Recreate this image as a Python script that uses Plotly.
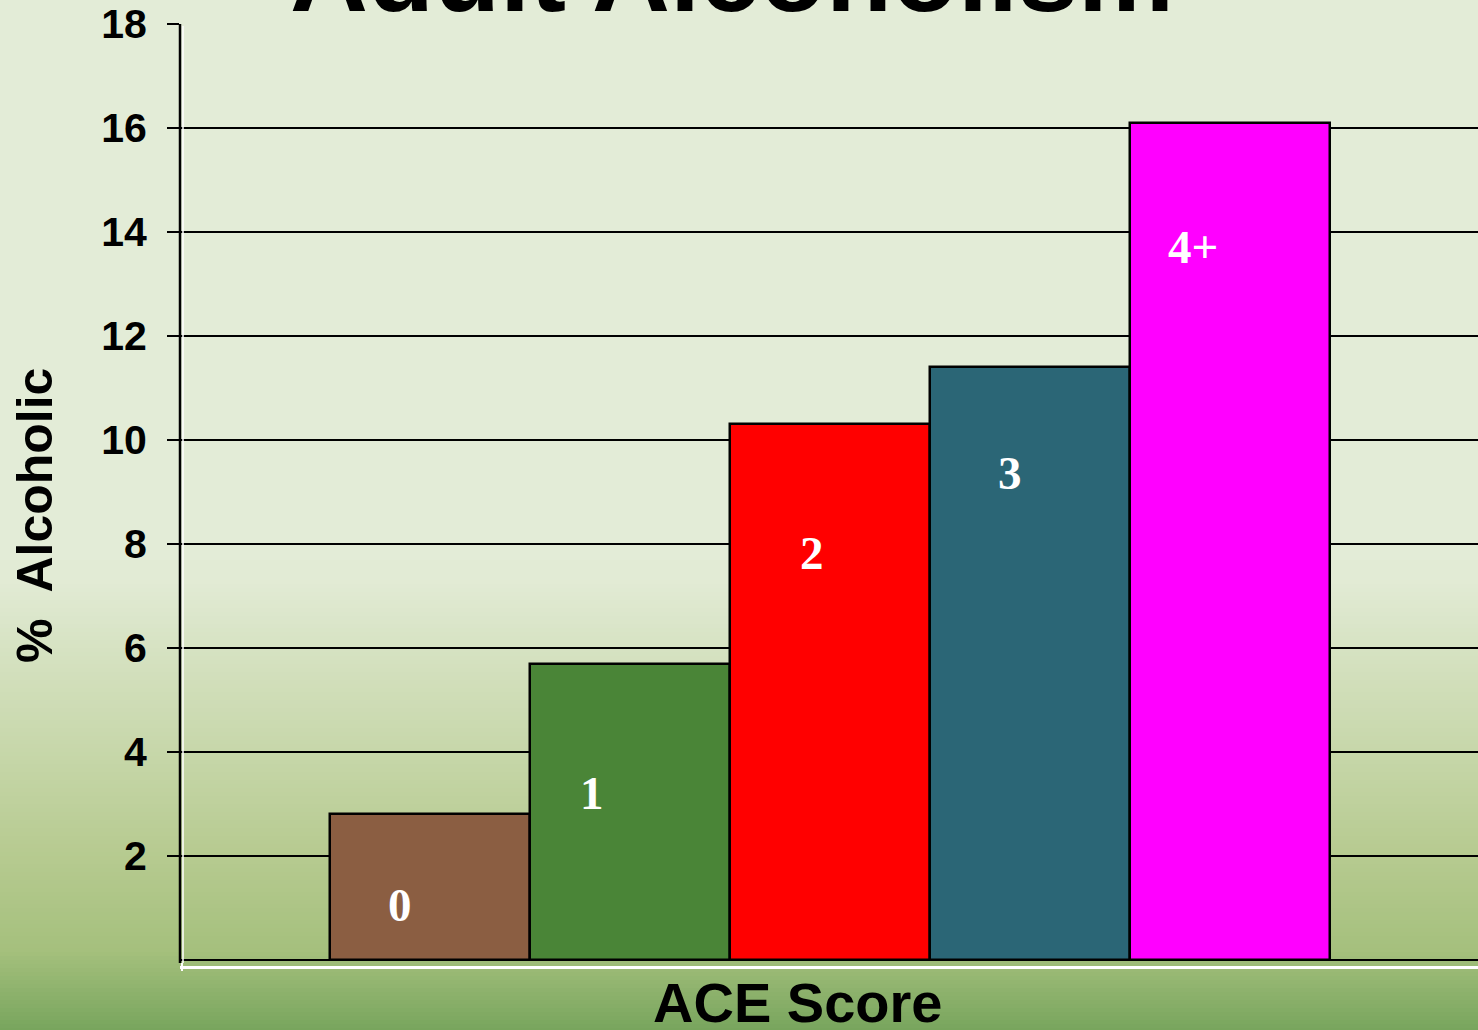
import plotly.graph_objects as go

# ---- data ----
categories = ["0", "1", "2", "3", "4+"]
pct_alcoholic = [2.8, 5.7, 10.3, 11.4, 16.1]
bar_colors = ["#8b5e42", "#4a8537", "#ff0000", "#2b6676", "#ff00ff"]
ytick_vals = [2, 4, 6, 8, 10, 12, 14, 16, 18]
title_text = "Adult Alcoholism"
x_title = "ACE Score"
y_title = "%\u00a0 Alcoholic"

# label placement (styling only)
label_y = [1.06, 3.21, 7.83, 9.37, 13.71]
label_dx = [-30, -38, -18, -20, -37]

W, H = 1478, 1030
L, R, T, B = 180, 0, 24, 64
plot_h = H - T - B
plot_w = W - L - R


def py(pix):
    return (H - B - pix) / plot_h


def px(pix):
    return (pix - L) / plot_w


fig = go.Figure()
fig.add_trace(go.Bar(
    x=categories, y=pct_alcoholic,
    marker=dict(color=bar_colors, line=dict(color="black", width=2.5)),
    width=1, showlegend=False, hoverinfo="x+y",
))

# background gradient bands
stops = [(0, (227, 236, 215)), (580, (226, 235, 213)), (650, (214, 226, 194)),
         (750, (199, 215, 170)), (850, (183, 203, 145)), (950, (165, 192, 125)),
         (1030, (120, 165, 93))]


def col_at(y):
    for (y0, c0), (y1, c1) in zip(stops[:-1], stops[1:]):
        if y0 <= y <= y1:
            t = (y - y0) / (y1 - y0)
            return "rgb(%d,%d,%d)" % tuple(round(a + (b - a) * t) for a, b in zip(c0, c1))
    return "rgb(%d,%d,%d)" % stops[-1][1]


shapes = []
step = 4
for y in range(560, H + step, step):
    shapes.append(dict(type="rect", xref="paper", yref="paper", layer="below",
                       x0=px(-10), x1=px(W + 10), y0=py(y + step + 1), y1=py(y),
                       fillcolor=col_at(y + step / 2), line=dict(width=0)))
# black left axis + white highlight lines
shapes.append(dict(type="line", xref="paper", yref="paper", layer="above",
                   x0=px(180), x1=px(180), y0=py(963), y1=1, line=dict(color="black", width=2.5)))
shapes.append(dict(type="line", xref="paper", yref="paper", layer="above",
                   x0=px(183), x1=px(183), y0=py(963), y1=py(26), line=dict(color="white", width=1.5)))
shapes.append(dict(type="line", xref="paper", yref="paper", layer="above",
                   x0=px(182), x1=px(182), y0=py(971), y1=py(963), line=dict(color="white", width=2)))

annotations = []
for c, yv, dx in zip(categories, label_y, label_dx):
    annotations.append(dict(x=c, y=yv, text="<b>%s</b>" % c, showarrow=False, xshift=dx,
                            font=dict(family="Liberation Serif", size=47, color="white"),
                            xanchor="center", yanchor="middle"))
annotations.append(dict(xref="paper", yref="paper", x=px(732), y=py(36), text="<b>%s</b>" % title_text,
                        showarrow=False, xanchor="center", yanchor="bottom",
                        font=dict(family="Liberation Sans", size=108, color="black")))
annotations.append(dict(xref="paper", yref="paper", x=px(797), y=py(1002), text="<b>%s</b>" % x_title,
                        showarrow=False, xanchor="center", yanchor="middle",
                        font=dict(family="Liberation Sans", size=56, color="black")))
annotations.append(dict(xref="paper", yref="paper", x=px(35), y=py(516), text="<b>%s</b>" % y_title,
                        showarrow=False, xanchor="center", yanchor="middle", textangle=-90,
                        font=dict(family="Liberation Sans", size=50, color="black")))

fig.update_layout(
    width=W, height=H,
    margin=dict(l=L, r=R, t=T, b=B, pad=0),
    paper_bgcolor="rgb(227,236,215)",
    plot_bgcolor="rgba(0,0,0,0)",
    bargap=0,
    shapes=shapes,
    annotations=annotations,
    xaxis=dict(range=[-1.25, 5.24], showticklabels=False, showgrid=False, zeroline=False,
               showline=True, linecolor="white", linewidth=3, ticks=""),
    yaxis=dict(range=[-6 / 52, 18], tickvals=ytick_vals, showgrid=True, gridcolor="black",
               gridwidth=2, zeroline=True, zerolinecolor="black", zerolinewidth=2,
               showline=False,
               ticks="outside", ticklen=12, tickcolor="black", tickwidth=2,
               ticklabelstandoff=12,
               tickfont=dict(family="Liberation Sans", size=41, color="black", weight="bold")),
)

fig.write_html("out.html", config={"displayModeBar": False},
               post_script="document.body.style.margin='0';document.body.style.overflow='hidden';")
